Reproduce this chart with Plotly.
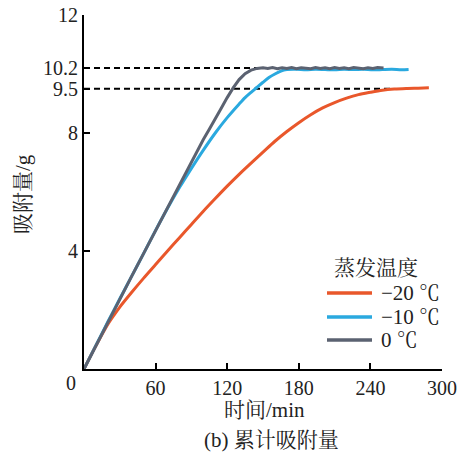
import plotly.graph_objects as go

# ---- data ----
t_red = [0, 10, 20, 25, 30, 40, 50, 60, 70, 80, 90, 100, 110, 120, 130, 140, 150, 160, 170, 180,
         190, 200, 210, 220, 230, 240, 250, 260, 270, 280, 289]
v_red = [0, 0.79, 1.52, 1.82, 2.1, 2.6, 3.08, 3.54, 4.0, 4.45, 4.9, 5.35, 5.78, 6.2, 6.6, 6.98,
         7.35, 7.72, 8.05, 8.35, 8.62, 8.85, 9.03, 9.18, 9.3, 9.38, 9.45, 9.49, 9.51, 9.52, 9.53]

t_blue = [0, 10, 20, 30, 40, 50, 60, 70, 80, 90, 100, 110, 120, 130, 135, 140, 145, 150, 155,
          160, 165, 170, 178, 186, 194, 202, 210, 218, 226, 234, 242, 250, 258, 266, 272]
v_blue = [0, 0.8, 1.6, 2.38, 3.15, 3.92, 4.7, 5.45, 6.15, 6.8, 7.42, 8.0, 8.52, 8.98, 9.2,
          9.38, 9.55, 9.72, 9.88, 10.0, 10.1, 10.15, 10.16, 10.14, 10.16, 10.15, 10.14, 10.16,
          10.15, 10.16, 10.14, 10.15, 10.16, 10.14, 10.15]

t_grey = [0, 10, 20, 30, 40, 50, 60, 70, 80, 90, 100, 105, 110, 115, 120, 125, 130, 135, 140,
          145, 150, 154, 158, 162, 166, 170, 174, 178, 182, 186, 190, 194, 198, 202, 206, 210,
          214, 218, 222, 226, 230, 234, 238, 242, 246, 251]
v_grey = [0, 0.8, 1.6, 2.38, 3.15, 3.92, 4.7, 5.48, 6.25, 7.02, 7.78, 8.13, 8.47, 8.84, 9.2,
          9.53, 9.81, 10.01, 10.13, 10.19, 10.21, 10.19, 10.22, 10.18, 10.21, 10.19, 10.22,
          10.18, 10.21, 10.2, 10.18, 10.22, 10.19, 10.21, 10.18, 10.22, 10.19, 10.21, 10.18,
          10.22, 10.2, 10.18, 10.21, 10.19, 10.22, 10.2]

names = ["\u221220 \u2103", "\u221210 \u2103", "0 \u2103"]
colors = ["#E9572B", "#2AA9DF", "#5B6271"]
legend_title = "蒸发温度"
x_title = "时间/min"
y_title = "吸附量/g"
caption = "(b) 累计吸附量"

ref_levels = [10.2, 9.5]
ref_ends = [150, 257]

x_ticks = [0, 60, 120, 180, 240, 300]
y_ticks = [0, 4, 8, 9.5, 10.2, 12]
y_tick_text = ["", "4", "8", "9.5", "10.2", "12"]

FONT = "Liberation Serif, Noto Serif CJK SC, Noto Sans CJK SC, serif"
FS = 21
TFS = 20

L, R, T, B = 84, 17, 15, 83
W, H = 459, 452
PW, PH = W - L - R, H - T - B


def px(x):
    return (x - L) / PW


def py(y):
    return (H - B - y) / PH


fig = go.Figure()

for lvl, end in zip(ref_levels, ref_ends):
    fig.add_trace(go.Scatter(x=[0, end], y=[lvl, lvl], mode="lines",
                             line=dict(color="black", width=2, dash="6px,4px"),
                             showlegend=False, hoverinfo="skip"))

shapes = ["spline", "spline", "linear"]
for t, v, n, c, s in zip([t_red, t_blue, t_grey], [v_red, v_blue, v_grey], names, colors, shapes):
    fig.add_trace(go.Scatter(x=t, y=v, mode="lines", name=n, showlegend=False,
                             line=dict(color=c, width=3, shape=s, smoothing=0.8)))

fig.update_layout(
    width=W, height=H,
    margin=dict(l=L, r=R, t=T, b=B),
    paper_bgcolor="white", plot_bgcolor="white",
    font=dict(family=FONT, size=FS, color="#222"),
    showlegend=False,
)

fig.update_xaxes(range=[0, 300], tickvals=x_ticks,
                 ticktext=["" if v == 0 else str(v) for v in x_ticks],
                 ticks="inside", ticklen=6, tickwidth=2, tickcolor="black",
                 showline=True, linewidth=2, linecolor="black", showgrid=False,
                 zeroline=False, automargin=False,
                 tickfont=dict(size=TFS))
fig.update_yaxes(range=[0, 12], tickvals=y_ticks, ticktext=y_tick_text,
                 ticks="inside", ticklen=6, tickwidth=2, tickcolor="black",
                 showline=True, linewidth=2, linecolor="black", showgrid=False,
                 zeroline=False, automargin=False,
                 tickfont=dict(size=TFS))


def label(text, x, y, xanchor="center", angle=0, size=FS):
    fig.add_annotation(text=text, x=px(x), y=py(y), xref="paper", yref="paper",
                       xanchor=xanchor, yanchor="middle", textangle=angle,
                       showarrow=False, font=dict(size=size))


label("0", 71, 383, size=TFS)
label(x_title, 264, 410)
label(y_title, 23, 194, angle=-90)
label(caption, 271, 440)

# legend (manual)
label(legend_title, 332, 268, xanchor="left")
leg_y = [293, 317, 340]
for n, c, yy in zip(names, colors, leg_y):
    fig.add_shape(type="line", x0=px(327), x1=px(372), y0=py(yy), y1=py(yy),
                  xref="paper", yref="paper", line=dict(color=c, width=3.5))
    label(n, 379, yy, xanchor="left")

fig.write_html("out.html")
